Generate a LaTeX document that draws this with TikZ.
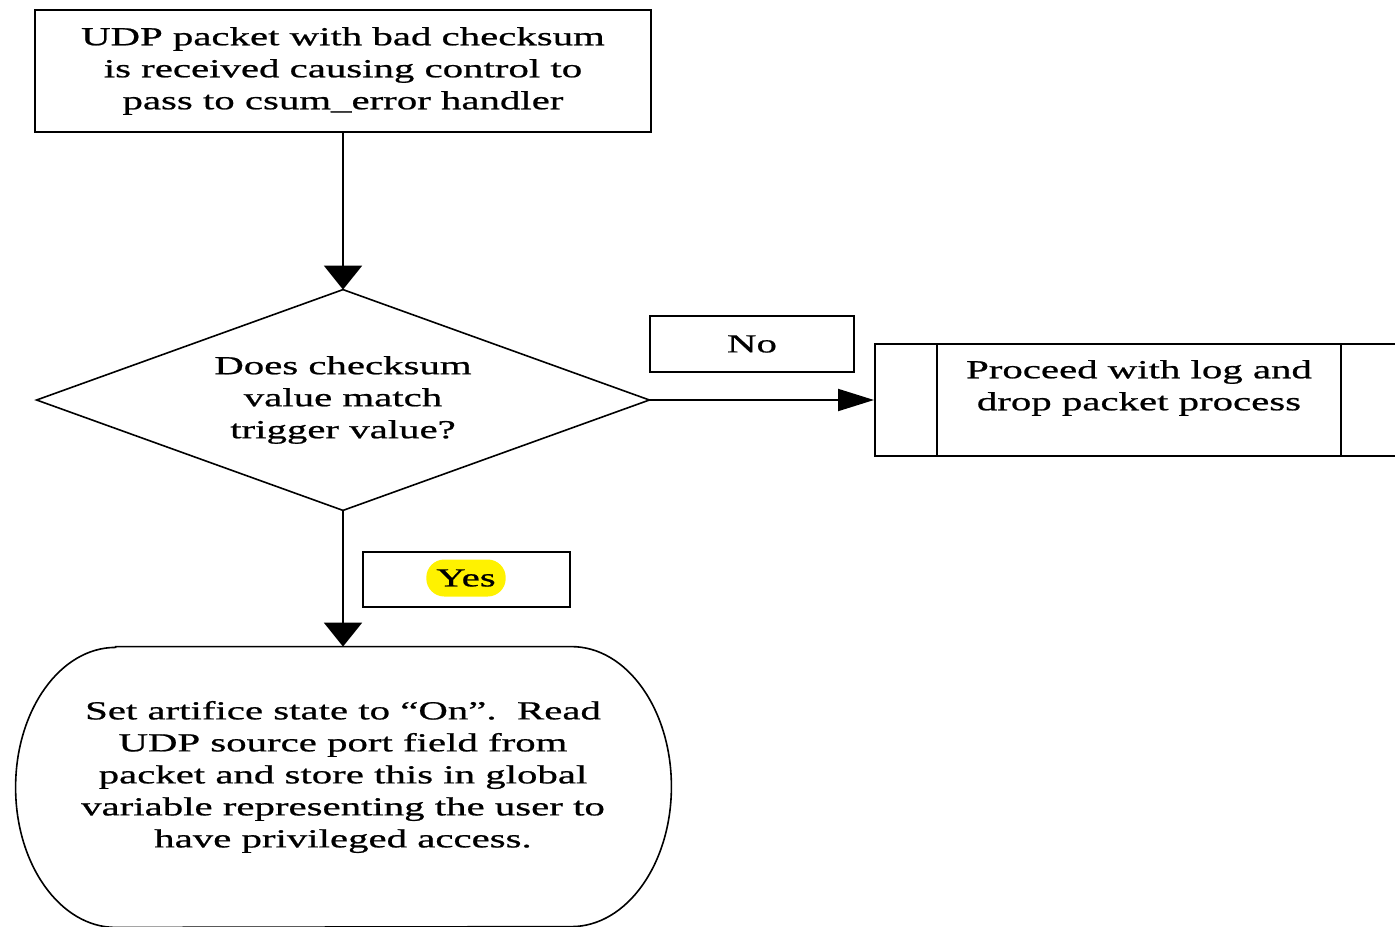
\documentclass[tikz,border=0pt]{standalone}
\usepackage{fontspec}
\setmainfont{Liberation Serif}[FakeStretch=1.57,FakeBold=0.8]
\usetikzlibrary{arrows.meta,calc}

\begin{document}
\begin{tikzpicture}[x=0.5pt,y=0.5pt,
  every node/.style={font=\fontsize{13pt}{16pt}\selectfont},
  box/.style={draw, line width=1pt, inner sep=0pt},
  txt/.style={align=center, inner sep=0pt},
  flow/.style={line width=1pt},
  downtip/.style={-{Triangle[width=19pt,length=12pt]}},
  righttip/.style={-{Triangle[width=11pt,length=18pt]}}]
\useasboundingbox (0,0) rectangle (1395,-926);

% start of the handler
\node[box, minimum width=308pt, minimum height=61pt, align=center] (start) at (343,-71)
  {UDP packet with bad checksum\\is received causing control to\\pass to csum\_error handler};

% decision: text box plus the diamond through its side midpoints
\node[minimum width=306pt, minimum height=110pt, inner sep=0pt, align=center]
  (dec) at (343,-400) {Does checksum\\value match\\trigger value?};
\draw[line width=0.8pt] (dec.north) -- (dec.east) -- (dec.south) -- (dec.west) -- cycle;

% "No" branch label and predefined process
\node[box, minimum width=102pt, minimum height=28pt] (no) at (752,-344) {No};
\node[box, minimum width=264pt, minimum height=56pt] (proc) at (1139,-400) {};
\draw[line width=1pt] ($(proc.north west)+(63,0)$) -- ($(proc.south west)+(63,0)$);
\draw[line width=1pt] ($(proc.north east)+(-63,0)$) -- ($(proc.south east)+(-63,0)$);
\node[txt] (proctext) at (1139,-388) {Proceed with log and\\drop packet process};

% "Yes" branch label
\node[box, minimum width=103.5pt, minimum height=27.5pt] (yes) at (466.5,-579.5) {};
\node[fill=yellow, rounded corners=9pt, inner xsep=5pt, inner ysep=0pt,
      minimum height=18.5pt] (yestext) at (466,-578) {Yes};

% terminal with elliptical ends
\node[minimum width=327.5pt, minimum height=140pt, inner sep=0pt] (set) at (343.5,-787) {};
\draw[line width=0.8pt]
  ($(set.north west)+(100,0)$) -- ($(set.north east)+(-100,0)$)
  arc[start angle=90, end angle=-90, x radius=100, y radius=140]
  -- ($(set.south west)+(100,0)$)
  arc[start angle=270, end angle=90, x radius=100, y radius=140] -- cycle;
\node[txt] (settext) at (343,-777)
  {Set artifice state to “On”.\ \ Read\\UDP source port field from\\packet and store this in global\\variable representing the user to\\have privileged access.};

% connectors
\draw[flow, downtip] (start.south) -- (dec.north);
\draw[flow, righttip] (dec.east) -- (proc.west);
\draw[flow, downtip] (dec.south) -- (dec.south |- set.north);
\end{tikzpicture}
\end{document}
